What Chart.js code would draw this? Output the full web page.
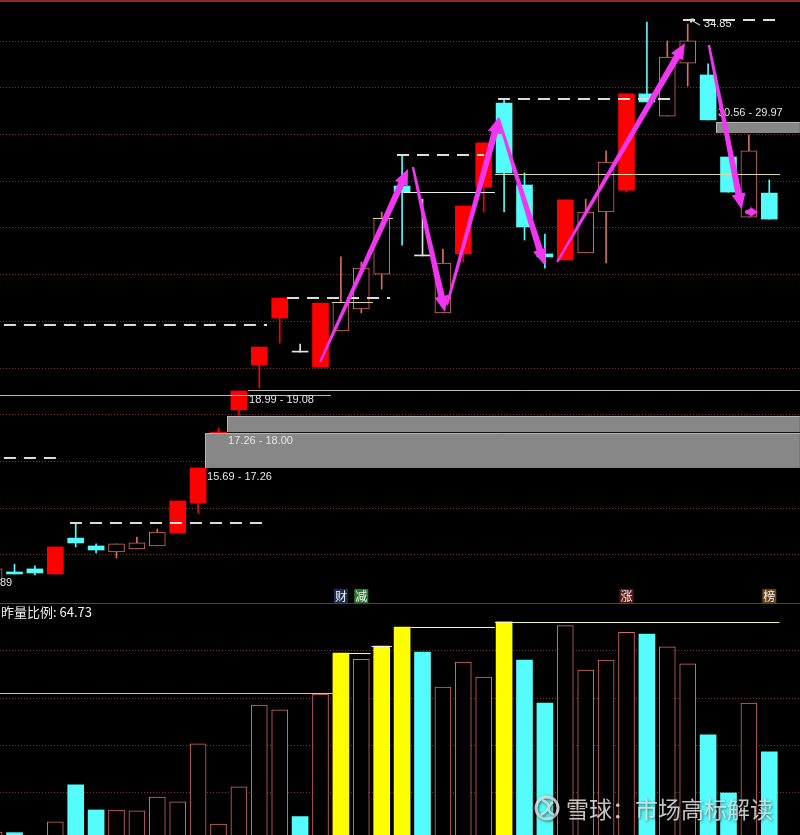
<!DOCTYPE html>
<html>
<head>
<meta charset="utf-8">
<script src="https://cdn.jsdelivr.net/npm/chart.js@4.4.1/dist/chart.umd.min.js"></script>
<style>
  html, body { margin: 0; padding: 0; background: #000; }
  canvas { display: block; }
</style>
</head>
<body>
<canvas id="kline" width="800" height="603"></canvas>
<canvas id="vol" width="800" height="232"></canvas>
<script>
// ---- datos de las velas (índice -1 .. 37) ----
const firstIndex = -1;
const opens  = [12.82, 13.14, 13.26, 13.06, 14.48, 14.17, 13.93, 14.05, 14.17, 14.68,
                15.87, 17.57, 19.56, 21.34, 23.20, 21.85, 21.26, 22.69, 23.56, 24.94,
                28.43, 25.66, 23.40, 25.74, 28.39, 31.72, 28.47, 25.74, 25.50, 25.78,
                27.40, 28.27, 32.08, 31.20, 33.30, 32.83, 29.58, 27.20, 28.15];
const highs  = [13.26, 13.45, 13.38, 14.13, 15.08, 14.25, 14.25, 14.52, 14.84, 15.95,
                17.26, 18.84, 20.31, 22.05, 23.99, 22.17, 23.79, 25.62, 25.42, 27.40,
                29.66, 27.91, 25.93, 27.64, 30.14, 31.88, 28.95, 26.53, 27.88, 27.91,
                29.82, 32.08, 34.93, 34.18, 34.85, 33.27, 29.58, 30.45, 28.67];
const lows   = [12.82, 13.06, 13.02, 13.06, 14.13, 13.89, 13.69, 14.05, 14.17, 14.68,
                15.48, 17.50, 19.36, 20.43, 22.21, 21.85, 21.26, 22.69, 23.40, 24.35,
                26.09, 25.66, 23.40, 25.42, 27.40, 27.40, 26.29, 25.18, 25.50, 25.78,
                25.38, 28.19, 31.76, 31.20, 32.39, 31.05, 28.19, 27.20, 27.12];
const closes = [13.26, 13.06, 13.10, 14.13, 14.29, 14.01, 14.25, 14.29, 14.72, 15.95,
                17.26, 18.68, 20.31, 22.05, 23.99, 21.85, 23.79, 23.83, 25.18, 27.16,
                28.19, 25.66, 25.38, 27.64, 30.14, 28.95, 26.81, 25.62, 27.88, 27.40,
                29.38, 32.08, 31.76, 33.54, 34.18, 31.05, 28.19, 29.82, 27.12];
const candleKind = ['hollow', 'cyan', 'cyan', 'red', 'cyan', 'cyan', 'hollow', 'hollow', 'hollow', 'red',
                    'red', 'red', 'red', 'red', 'red', 'white', 'red', 'hollow', 'hollow', 'hollow',
                    'cyan', 'white', 'hollow', 'red', 'red', 'cyan', 'cyan', 'cyan', 'red', 'hollow',
                    'hollow', 'red', 'cyan', 'hollow', 'hollow', 'cyan', 'cyan', 'hollow', 'cyan'];

// ---- volumen ----
const volumes = [1.5, 1.4, 0.5, 3.7, 11.5, 6.2, 6.2, 6.0, 8.9, 7.9,
                 20.2, 3.2, 11.1, 28.4, 27.4, 4.8, 30.7, 39.4, 38.1, 40.9,
                 44.9, 39.6, 32.2, 37.5, 34.3, 46.0, 37.9, 28.8, 45.2, 35.8,
                 37.9, 43.8, 43.4, 40.7, 37.1, 22.1, 9.8, 28.8, 18.5];
const volKind = ['hollow', 'cyan', 'cyan', 'hollow', 'cyan', 'cyan', 'hollow', 'hollow', 'hollow', 'hollow',
                 'hollow', 'hollow', 'hollow', 'hollow', 'hollow', 'cyan', 'hollow', 'yellow', 'hollow', 'yellow',
                 'yellow', 'cyan', 'hollow', 'hollow', 'hollow', 'yellow', 'cyan', 'cyan', 'hollow', 'hollow',
                 'hollow', 'hollow', 'cyan', 'hollow', 'hollow', 'cyan', 'cyan', 'hollow', 'cyan'];
const volLabel = '昨量比例: 64.73';
// tramos horizontales sobre el volumen: [desde, hasta, valor, color]
const volSteps = [
  [-1.5, 15.8, 30.9, '#d2d088'],
  [15.9, 17.45, 39.4, '#f0f0f0'],
  [17.5, 18.5, 41.0, '#f0f0f0'],
  [19.4, 23.55, 44.9, '#f4f4c0'],
  [23.55, 37.5, 46.0, '#f4f4a8']
];

// ---- anotaciones del gráfico de precio ----
// zonas grises: [desde, hasta, precio bajo, precio alto]
const gapBoxes = [
  [10.42, 38.5, 18.68, 19.32],
  [9.34, 38.5, 17.26, 18.645],
  [34.39, 38.5, 30.53, 30.97]
];
// líneas sólidas: [desde, hasta, precio, color]
const levelLines = [
  [-1.5, 15.51, 20.15, '#c8c070'],
  [11.45, 38.5, 20.35, '#bdbdbd'],
  [19.04, 23.55, 28.19, '#eeeeee'],
  [23.55, 37.52, 28.91, '#d8d8a0'],
  [15.56, 17.57, 23.83, '#e0d090'],
  [17.57, 18.55, 27.16, '#e0d090']
];
// líneas discontinuas: [desde, hasta, precio]
const dashLines = [
  [-1.5, 12.38, 22.92],
  [-1.5, 2.33, 17.65],
  [2.72, 12.38, 15.08],
  [13.36, 18.41, 23.99],
  [18.75, 23.02, 29.66],
  [23.7, 32.38, 31.88],
  [32.77, 37.43, 35.01]
];
// textos: [texto, índice, precio]
const priceLabels = [
  ['18.99 - 19.08', 11.50, 19.95],
  ['17.26 - 18.00', 10.47, 18.33],
  ['15.69 - 17.26', 9.44, 16.90],
  ['30.56 - 29.97', 34.48, 31.32],
  ['34.85', 33.8, 34.85],
  ['89', -0.711, 12.70]
];
// marcas de evento: [índice, carácter, fondo]
const eventMarks = [
  [16, '财', '#1c2c52'],
  [17, '减', '#2a7a2a'],
  [30, '涨', '#5c1818'],
  [37, '榜', '#6a4418']
];
const eventPrice = 12.19;
// flechas: [índice inicio, precio inicio, índice fin, precio fin]
const arrows = [
  [14.98, 21.46, 19.29, 29.10],
  [19.53, 29.18, 21.10, 23.44],
  [21.20, 23.72, 23.75, 31.16],
  [23.72, 31.12, 25.98, 25.30],
  [26.60, 25.42, 32.87, 34.10],
  [34.04, 34.02, 35.65, 27.50],
  [35.81, 27.40, 36.45, 27.40]
];
const highPointer = [33.6, 34.81, 33.06, 35.05];

// ---- escalas ----
const priceMin = 11.91, priceMax = 35.80;
const priceGridTop = 34.19, priceGridStep = 1.85, priceGridCount = 12;
const volMin = 0.9, volMax = 50;
const volGrid = [10, 20, 30, 40];
const xMin = -0.711, xMax = 38.505;

const colors = { red: '#ff0000', cyan: '#54fcfc', white: '#e4e4e4', hollow: '#d86c60', yellow: '#ffff00' };
const gridColor = '#7a3428';
const frameColor = '#8c2a2a';
const arrowColor = '#f036f0';

const xIdx = opens.map((_, i) => i + firstIndex);

function candleDatasets() {
  const sets = [];
  ['hollow', 'red', 'cyan', 'white'].forEach(kind => {
    const pick = xIdx.map((_, i) => i).filter(i => candleKind[i] === kind);
    sets.push({
      data: pick.map(i => ({ x: xIdx[i], y: [lows[i], highs[i]] })),
      backgroundColor: colors[kind],
      barThickness: 1,
      order: 2
    });
    sets.push({
      data: pick.map(i => ({ x: xIdx[i], y: [Math.min(opens[i], closes[i]), Math.max(opens[i], closes[i])] })),
      backgroundColor: kind === 'hollow' ? '#000' : colors[kind],
      borderColor: colors[kind],
      borderWidth: kind === 'hollow' ? 1 : 0,
      borderSkipped: false,
      barThickness: 16,
      minBarLength: 1,
      order: 1
    });
  });
  return sets;
}

function volumeDatasets() {
  return ['hollow', 'cyan', 'yellow'].map(kind => {
    const pick = xIdx.map((_, i) => i).filter(i => volKind[i] === kind);
    return {
      data: pick.map(i => ({ x: xIdx[i], y: volumes[i] })),
      backgroundColor: kind === 'hollow' ? '#000' : colors[kind],
      borderColor: colors[kind],
      borderWidth: kind === 'hollow' ? 1 : 0,
      borderSkipped: false,
      barThickness: 16
    };
  });
}

function drawArrow(ctx, x0, y0, x1, y1, w0, w1, headLen, headW) {
  const dx = x1 - x0, dy = y1 - y0, len = Math.hypot(dx, dy);
  const ux = dx / len, uy = dy / len, nx = -uy, ny = ux;
  headLen = Math.min(headLen, len * 0.6);
  headW = Math.min(headW, len * 0.4);
  const bx = x1 - ux * headLen, by = y1 - uy * headLen;
  ctx.beginPath();
  ctx.moveTo(x0 + nx * w0, y0 + ny * w0);
  ctx.lineTo(bx + nx * w1, by + ny * w1);
  ctx.lineTo(bx + nx * headW, by + ny * headW);
  ctx.lineTo(x1, y1);
  ctx.lineTo(bx - nx * headW, by - ny * headW);
  ctx.lineTo(bx - nx * w1, by - ny * w1);
  ctx.lineTo(x0 - nx * w0, y0 - ny * w0);
  ctx.closePath();
  ctx.fill();
}

function hline(ctx, x0, x1, y) {
  ctx.beginPath();
  ctx.moveTo(x0, y);
  ctx.lineTo(x1, y);
  ctx.stroke();
}

const klineDecor = {
  id: 'klineDecor',
  beforeDatasetsDraw(chart) {
    const { ctx, chartArea: a, scales: { y } } = chart;
    ctx.save();
    ctx.strokeStyle = gridColor;
    ctx.lineWidth = 1;
    ctx.setLineDash([1, 2]);
    for (let k = 0; k < priceGridCount; k++) {
      const yy = Math.round(y.getPixelForValue(priceGridTop - k * priceGridStep)) + 0.5;
      hline(ctx, a.left, a.right, yy);
    }
    ctx.setLineDash([]);
    ctx.strokeStyle = frameColor;
    ctx.lineWidth = 2;
    hline(ctx, a.left, a.right, 1);
    ctx.restore();
  },
  afterDatasetsDraw(chart) {
    const { ctx, scales: { x, y } } = chart;
    ctx.save();
    // zonas grises
    gapBoxes.forEach(([f, t, lo, hi]) => {
      const x0 = x.getPixelForValue(f), x1 = x.getPixelForValue(t);
      const y0 = y.getPixelForValue(hi), y1 = y.getPixelForValue(lo);
      ctx.fillStyle = '#878787';
      ctx.fillRect(x0, y0, x1 - x0, y1 - y0);
      ctx.strokeStyle = '#b4b4b4';
      ctx.lineWidth = 1;
      hline(ctx, x0, x1, Math.round(y0) + 0.5);
      ctx.beginPath();
      ctx.moveTo(Math.round(x0) + 0.5, y0);
      ctx.lineTo(Math.round(x0) + 0.5, y1);
      ctx.stroke();
    });
    // líneas de nivel
    ctx.lineWidth = 1;
    levelLines.forEach(([f, t, p, c]) => {
      ctx.strokeStyle = c;
      hline(ctx, x.getPixelForValue(f), x.getPixelForValue(t), Math.round(y.getPixelForValue(p)) + 0.5);
    });
    ctx.strokeStyle = '#dcdcdc';
    ctx.lineWidth = 2;
    ctx.setLineDash([12, 8]);
    dashLines.forEach(([f, t, p]) => {
      hline(ctx, x.getPixelForValue(f), x.getPixelForValue(t), Math.round(y.getPixelForValue(p)));
    });
    ctx.setLineDash([]);
    // textos
    ctx.font = '11px Arial, "Liberation Sans", sans-serif';
    ctx.textBaseline = 'middle';
    ctx.textAlign = 'left';
    priceLabels.forEach(([s, i, p]) => {
      ctx.fillStyle = '#e6e6e6';
      ctx.fillText(s, x.getPixelForValue(i), y.getPixelForValue(p));
    });
    // marcas de evento
    ctx.font = '12px "Noto Sans CJK SC", sans-serif';
    ctx.textAlign = 'center';
    eventMarks.forEach(([i, ch, bg]) => {
      const cx = x.getPixelForValue(i), cy = y.getPixelForValue(eventPrice);
      ctx.fillStyle = bg;
      ctx.fillRect(cx - 7, cy - 7, 14, 14);
      ctx.fillStyle = '#f2f2f2';
      ctx.fillText(ch, cx, cy + 1);
    });
    // puntero al máximo
    ctx.fillStyle = '#dddddd';
    const [pi0, pp0, pi1, pp1] = highPointer;
    drawArrow(ctx, x.getPixelForValue(pi0), y.getPixelForValue(pp0),
              x.getPixelForValue(pi1), y.getPixelForValue(pp1), 0.5, 0.5, 4, 3);
    // flechas magenta
    ctx.fillStyle = arrowColor;
    arrows.forEach(([i0, p0, i1, p1]) => {
      drawArrow(ctx, x.getPixelForValue(i0), y.getPixelForValue(p0),
                x.getPixelForValue(i1), y.getPixelForValue(p1), 1.2, 3.3, 16, 7);
    });
    ctx.restore();
  }
};

const volDecor = {
  id: 'volDecor',
  beforeDatasetsDraw(chart) {
    const { ctx, chartArea: a, scales: { y } } = chart;
    ctx.save();
    ctx.strokeStyle = gridColor;
    ctx.lineWidth = 1;
    ctx.setLineDash([1, 2]);
    volGrid.forEach(v => hline(ctx, a.left, a.right, Math.round(y.getPixelForValue(v)) + 0.5));
    ctx.setLineDash([]);
    ctx.restore();
  },
  afterDatasetsDraw(chart) {
    const { ctx, chartArea: a, scales: { x, y } } = chart;
    ctx.save();
    ctx.lineWidth = 1;
    volSteps.forEach(([f, t, v, c]) => {
      ctx.strokeStyle = c;
      hline(ctx, x.getPixelForValue(f), x.getPixelForValue(t), Math.round(y.getPixelForValue(v)) + 0.5);
    });
    ctx.strokeStyle = frameColor;
    hline(ctx, a.left, a.right, 0.5);
    ctx.fillStyle = '#f0f0f0';
    ctx.font = '13px "Noto Sans CJK SC", sans-serif';
    ctx.textBaseline = 'middle';
    ctx.fillText(volLabel, 1, 9);
    // marca de agua
    ctx.globalAlpha = 0.82;
    ctx.shadowColor = 'rgba(0,0,0,0.7)';
    ctx.shadowBlur = 3;
    ctx.shadowOffsetX = 1;
    ctx.shadowOffsetY = 1;
    ctx.strokeStyle = '#e8e8e8';
    ctx.lineWidth = 3;
    ctx.beginPath();
    ctx.arc(547, 205, 11, 0, Math.PI * 2);
    ctx.stroke();
    ctx.lineWidth = 2.5;
    ctx.beginPath();
    ctx.moveTo(542, 197);
    ctx.quadraticCurveTo(556, 203, 541, 212);
    ctx.moveTo(553, 199);
    ctx.quadraticCurveTo(544, 207, 554, 212);
    ctx.stroke();
    ctx.fillStyle = '#ececec';
    ctx.font = '23px "Noto Sans CJK SC", sans-serif';
    ctx.textAlign = 'left';
    ctx.fillText('雪球：市场高标解读', 566, 206);
    ctx.restore();
  }
};

const commonOptions = (yMin, yMax) => ({
  responsive: false,
  animation: false,
  devicePixelRatio: 1,
  layout: { padding: 0 },
  datasets: { bar: { grouped: false } },
  plugins: { legend: { display: false }, tooltip: { enabled: false } },
  scales: {
    x: { type: 'linear', min: xMin, max: xMax, offset: false, display: false, grid: { display: false } },
    y: { type: 'linear', min: yMin, max: yMax, display: false, grid: { display: false } }
  }
});

new Chart(document.getElementById('kline'), {
  type: 'bar',
  data: { datasets: candleDatasets() },
  options: commonOptions(priceMin, priceMax),
  plugins: [klineDecor]
});

new Chart(document.getElementById('vol'), {
  type: 'bar',
  data: { datasets: volumeDatasets() },
  options: commonOptions(volMin, volMax),
  plugins: [volDecor]
});
</script>
</body>
</html>
